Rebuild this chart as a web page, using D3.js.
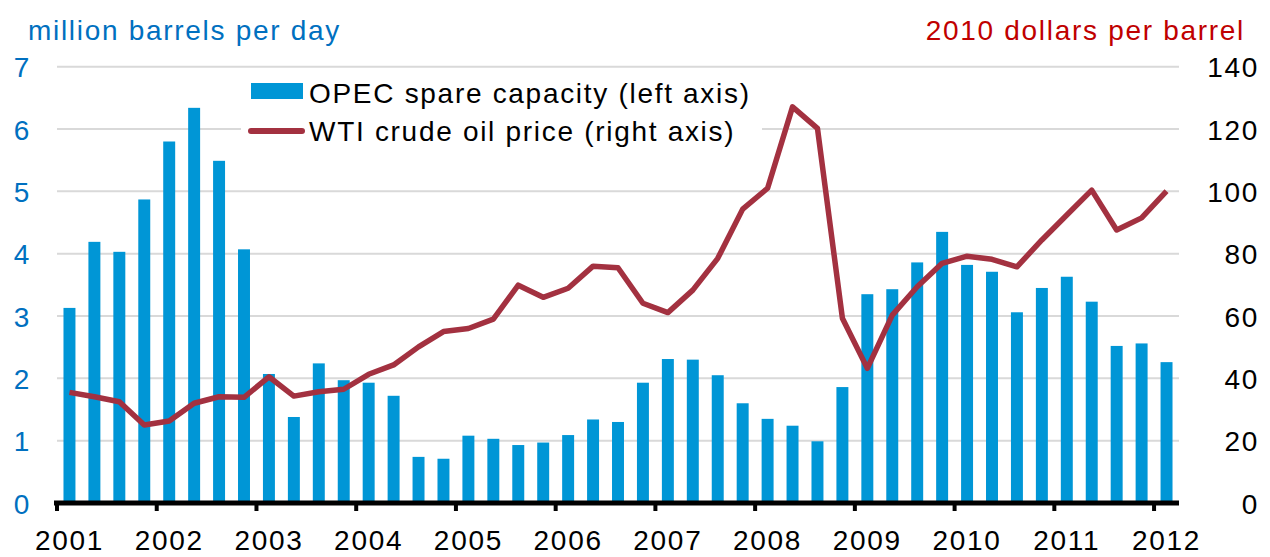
<!DOCTYPE html>
<html>
<head>
<meta charset="utf-8">
<script src="https://cdn.jsdelivr.net/npm/d3@7"></script>
<style>
  body { margin: 0; background: #fff; }
  svg { display: block; }
  text { font-family: "Liberation Sans", Arial, sans-serif; font-size: 28px; letter-spacing: 1.7px; }
</style>
</head>
<body>
<svg></svg>
<script>
let years = ['2001', '2002', '2003', '2004', '2005', '2006', '2007', '2008', '2009', '2010', '2011', '2012']

// OPEC spare capacity, million barrels per day, quarterly 2001Q1 - 2012Q1
let spareCapacity = [
  3.13, 4.19, 4.03, 4.87,
  5.80, 6.34, 5.49, 4.07,
  2.07, 1.38, 2.24, 1.97,
  1.93, 1.72, 0.74, 0.71,
  1.08, 1.03, 0.93, 0.97,
  1.09, 1.34, 1.30, 1.93,
  2.31, 2.30, 2.05, 1.60,
  1.35, 1.24, 0.99, 1.86,
  3.35, 3.43, 3.86, 4.35,
  3.82, 3.71, 3.06, 3.45,
  3.63, 3.23, 2.52, 2.56,
  2.26
]

// WTI crude oil price, 2010 dollars per barrel
let wtiPrice = [
  35.5, 34.1, 32.5, 25.0,
  26.3, 32.0, 34.1, 33.9,
  40.5, 34.3, 35.7, 36.5,
  41.3, 44.3, 50.1, 55.0,
  56.0, 59.0, 69.9, 66.0,
  68.9, 76.0, 75.5, 64.1,
  61.1, 68.3, 78.5, 94.3,
  101.0, 127.1, 120.2, 59.3,
  43.2, 60.3, 69.4, 76.9,
  79.2, 78.2, 75.8, 84.4,
  92.4, 100.4, 87.6, 91.5,
  100.1
]

let leftTicks = [0, 1, 2, 3, 4, 5, 6, 7]
let rightTicks = [0, 20, 40, 60, 80, 100, 120, 140]

let quarters = []
spareCapacity.forEach((v, i) => {
  quarters.push(years[Math.floor(i / 4)] + 'Q' + (i % 4 + 1))
})

let width = 1270
let height = 557
let plotLeft = 57
let plotRight = 1179
let plotTop = 66.7
let plotBottom = 503

let blue = '#0096d6'
let red = '#a33140'
let font = '"Liberation Sans", Arial, sans-serif'

let svg = d3.select('svg')
svg.attr('width', width).attr('height', height)

let xScale = d3.scaleBand()
  .domain(quarters)
  .range([plotLeft, plotRight])
  .paddingInner(0.52)
  .paddingOuter(0.26)

let yLeft = d3.scaleLinear().domain([0, 7]).range([plotBottom, plotTop])
let yRight = d3.scaleLinear().domain([0, 140]).range([plotBottom, plotTop])

let gap = (xScale.step() - xScale.bandwidth()) / 2

// gridlines
svg.append('g')
  .selectAll('line')
  .data(leftTicks.slice(1))
  .enter()
  .append('line')
  .attr('x1', plotLeft)
  .attr('x2', plotRight)
  .attr('y1', d => yLeft(d))
  .attr('y2', d => yLeft(d))
  .attr('stroke', '#d9d9d9')
  .attr('stroke-width', 2)

// bars
svg.append('g')
  .selectAll('rect')
  .data(spareCapacity)
  .enter()
  .append('rect')
  .attr('x', (d, i) => xScale(quarters[i]))
  .attr('width', xScale.bandwidth())
  .attr('y', d => yLeft(d))
  .attr('height', d => yLeft(0) - yLeft(d))
  .attr('fill', blue)

// x axis line and ticks
let xAxis = d3.axisBottom(xScale)
  .tickValues(quarters.filter((q, i) => i % 4 == 0))
  .tickSize(8)
  .tickSizeOuter(0)
  .tickFormat(q => q.slice(0, 4))

let gx = svg.append('g')
  .attr('transform', 'translate(0,' + plotBottom + ')')
  .call(xAxis)

gx.select('.domain')
  .attr('d', 'M' + (plotLeft - 3) + ',0H' + plotRight)
  .attr('stroke', '#000')
  .attr('stroke-width', 5)

gx.selectAll('.tick line')
  .attr('transform', 'translate(' + (-xScale.bandwidth() / 2 - gap) + ',0)')
  .attr('stroke', '#000')
  .attr('stroke-width', 4)

gx.selectAll('.tick text')
  .attr('y', 47)
  .attr('dy', null)
  .attr('fill', '#000')
  .style('font-size', '28px')
  .style('font-family', font)

// left axis labels
let yAxisLeft = d3.axisLeft(yLeft)
  .tickValues(leftTicks)
  .tickFormat(d3.format('d'))
  .tickSize(0)
  .tickPadding(0)
let gl = svg.append('g')
  .attr('transform', 'translate(31,0)')
  .call(yAxisLeft)
gl.select('.domain').remove()
gl.selectAll('.tick text')
  .attr('dy', 10)
  .attr('fill', '#0070c0')
  .style('font-size', '28px')
  .style('font-family', font)

// right axis labels
let yAxisRight = d3.axisRight(yRight)
  .tickValues(rightTicks)
  .tickFormat(d3.format('d'))
  .tickSize(0)
  .tickPadding(0)
let gr = svg.append('g')
  .attr('transform', 'translate(1259,0)')
  .call(yAxisRight)
gr.select('.domain').remove()
gr.selectAll('.tick text')
  .attr('dy', 10)
  .attr('text-anchor', 'end')
  .attr('fill', '#000')
  .style('font-size', '28px')
  .style('font-family', font)

// price line
let line = d3.line()
  .x((d, i) => xScale(quarters[i]) + xScale.bandwidth() / 2)
  .y(d => yRight(d))

svg.append('path')
  .datum(wtiPrice)
  .attr('d', line)
  .attr('fill', 'none')
  .attr('stroke', red)
  .attr('stroke-width', 5.5)
  .attr('stroke-linejoin', 'round')

// axis titles
svg.append('text')
  .attr('x', 28)
  .attr('y', 40)
  .attr('fill', '#0070c0')
  .text('million barrels per day')

svg.append('text')
  .attr('x', 1245)
  .attr('y', 40)
  .attr('text-anchor', 'end')
  .attr('fill', '#c00000')
  .text('2010 dollars per barrel')

// legend
let legend = svg.append('g')
legend.append('rect')
  .attr('x', 241).attr('y', 72)
  .attr('width', 521).attr('height', 80)
  .attr('fill', '#fff')
legend.append('rect')
  .attr('x', 251).attr('y', 83)
  .attr('width', 52).attr('height', 16)
  .attr('fill', blue)
legend.append('text')
  .attr('x', 309).attr('y', 103)
  .attr('fill', '#000')
  .text('OPEC spare capacity (left axis)')
legend.append('line')
  .attr('x1', 251).attr('x2', 302)
  .attr('y1', 131).attr('y2', 131)
  .attr('stroke', red)
  .attr('stroke-width', 6)
  .attr('stroke-linecap', 'round')
legend.append('text')
  .attr('x', 309).attr('y', 141)
  .attr('fill', '#000')
  .text('WTI crude oil price (right axis)')
</script>
</body>
</html>
